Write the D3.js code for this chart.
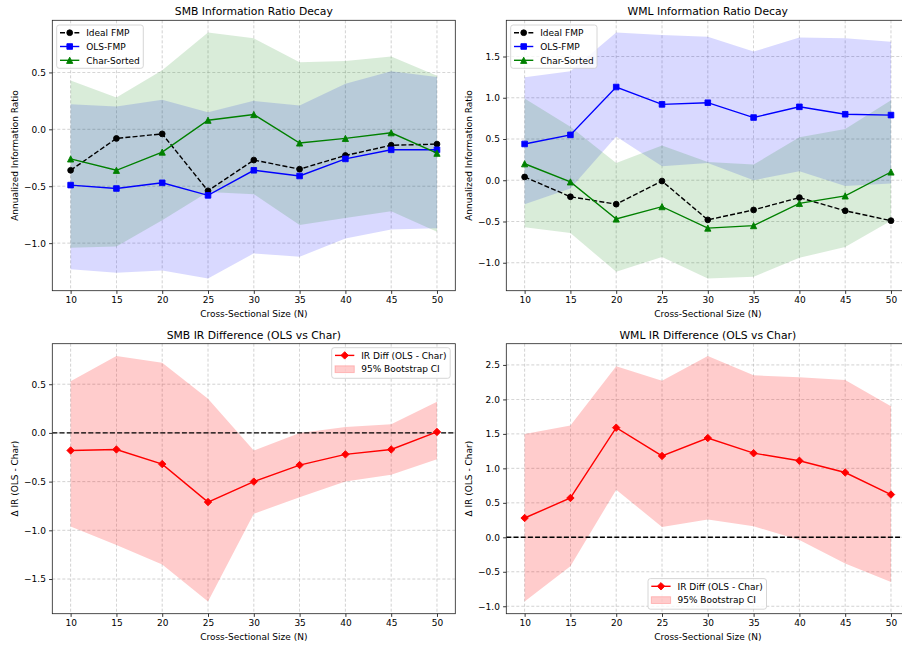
<!DOCTYPE html>
<html><head><meta charset="utf-8">
<script src="https://cdn.jsdelivr.net/npm/d3@7"></script>
<style>
body{margin:0;background:#fff;}
text{font-family:"DejaVu Sans",sans-serif;fill:#000;}
</style></head>
<body><svg id="c" width="902" height="646"></svg>
<script>
// ---------- data ----------
const Ns = [10,15,20,25,30,35,40,45,50];

const smbIdeal  = [-0.36,-0.08,-0.04,-0.54,-0.27,-0.35,-0.23,-0.14,-0.13];
const smbOls    = [-0.49,-0.52,-0.47,-0.58,-0.36,-0.41,-0.26,-0.18,-0.18];
const smbChar   = [-0.26,-0.36,-0.20,0.08,0.13,-0.12,-0.08,-0.03,-0.21];
const smbOlsLo  = [-1.23,-1.26,-1.24,-1.31,-1.09,-1.12,-0.96,-0.88,-0.87];
const smbOlsHi  = [0.22,0.20,0.26,0.15,0.25,0.21,0.40,0.51,0.46];
const smbCharLo = [-1.04,-1.03,-0.80,-0.55,-0.57,-0.84,-0.78,-0.72,-0.90];
const smbCharHi = [0.43,0.28,0.52,0.85,0.80,0.59,0.60,0.64,0.47];

const wmlIdeal  = [0.04,-0.20,-0.29,-0.01,-0.48,-0.36,-0.21,-0.37,-0.49];
const wmlOls    = [0.44,0.55,1.13,0.92,0.94,0.76,0.89,0.80,0.79];
const wmlChar   = [0.20,-0.02,-0.47,-0.32,-0.58,-0.55,-0.28,-0.19,0.10];
const wmlOlsLo  = [-0.29,-0.10,0.53,0.17,0.21,0.00,0.11,-0.07,-0.04];
const wmlOlsHi  = [1.25,1.32,1.79,1.76,1.74,1.56,1.73,1.72,1.68];
const wmlCharLo = [-0.57,-0.64,-1.11,-0.93,-1.19,-1.17,-0.94,-0.81,-0.49];
const wmlCharHi = [0.99,0.65,0.21,0.42,0.22,0.19,0.52,0.62,0.97];

const smbDiff   = [-0.18,-0.17,-0.32,-0.71,-0.50,-0.33,-0.22,-0.17,0.01];
const smbDiffLo = [-0.96,-1.15,-1.35,-1.73,-0.83,-0.66,-0.50,-0.43,-0.27];
const smbDiffHi = [0.53,0.79,0.72,0.35,-0.18,0.00,0.06,0.09,0.32];

const wmlDiff   = [0.28,0.57,1.59,1.18,1.44,1.22,1.11,0.94,0.62];
const wmlDiffLo = [-0.93,-0.42,0.69,0.15,0.26,0.16,-0.04,-0.38,-0.65];
const wmlDiffHi = [1.50,1.62,2.48,2.27,2.63,2.35,2.32,2.28,1.90];

const titles = ["SMB Information Ratio Decay","WML Information Ratio Decay",
                "SMB IR Difference (OLS vs Char)","WML IR Difference (OLS vs Char)"];
const yLabels = ["Annualized Information Ratio","Annualized Information Ratio","Δ IR (OLS - Char)","Δ IR (OLS - Char)"];
const xLabel = "Cross-Sectional Size (N)";
const seriesNames = ["Ideal FMP","OLS-FMP","Char-Sorted"];
const diffNames = ["IR Diff (OLS - Char)","95% Bootstrap CI"];
const yTicks = [[-1.0,-0.5,0.0,0.5],[-1.0,-0.5,0.0,0.5,1.0,1.5],[-1.5,-1.0,-0.5,0.0,0.5],[-1.0,-0.5,0.0,0.5,1.0,1.5,2.0,2.5]];

// ---------- layout ----------
const svg = d3.select("#c");
const panels = [
  {x0:52.3, x1:455.3, y0:20.3, y1:290.7},
  {x0:506.3, x1:909.3, y0:20.3, y1:290.7},
  {x0:52.3, x1:455.3, y0:343.7, y1:613.7},
  {x0:506.3, x1:909.3, y0:343.7, y1:613.7}
];
const FS = 9.0, TFS = 10.8, LW = 1.4, DASH = "5.0,2.2";

// marker shapes matching matplotlib
const mk = {
  circle: {draw(c,s){const r=s/2;c.moveTo(r,0);c.arc(0,0,r,0,2*Math.PI);}},
  square: {draw(c,s){const h=s/2;c.rect(-h,-h,s,s);}},
  triangle: {draw(c,s){const h=s/2;c.moveTo(0,-h);c.lineTo(h,h);c.lineTo(-h,h);c.closePath();}},
  diamond: {draw(c,s){const h=s*0.62;c.moveTo(0,-h);c.lineTo(h,0);c.lineTo(0,h);c.lineTo(-h,0);c.closePath();}}
};
function marker(g, type, size, color, x, y){
  g.append("path").attr("d", d3.symbol().type(mk[type]).size(size)())
   .attr("transform",`translate(${x},${y})`)
   .attr("fill",color).attr("stroke",color).attr("stroke-width",0.9);
}

function makePanel(i, bands, lines, hline){
  const p = panels[i];
  const all = [];
  bands.forEach(b=>{all.push(...b.lo,...b.hi);});
  lines.forEach(l=>all.push(...l.v));
  const mn=d3.min(all), mx=d3.max(all), pad=(mx-mn)*0.05;
  const x = d3.scaleLinear().domain([8,52]).range([p.x0,p.x1]);
  const y = d3.scaleLinear().domain([mn-pad,mx+pad]).range([p.y1,p.y0]);
  const g = svg.append("g");
  const cid = "clip"+i;
  svg.append("clipPath").attr("id",cid).append("rect")
     .attr("x",p.x0).attr("y",p.y0).attr("width",p.x1-p.x0).attr("height",p.y1-p.y0);
  // grid
  const grid = g.append("g");
  Ns.forEach(n=>grid.append("line").attr("x1",x(n)).attr("x2",x(n)).attr("y1",p.y0).attr("y2",p.y1));
  yTicks[i].forEach(t=>grid.append("line").attr("x1",p.x0).attr("x2",p.x1).attr("y1",y(t)).attr("y2",y(t)));
  grid.selectAll("line").attr("stroke","#b0b0b0").attr("stroke-width",0.8)
      .attr("stroke-dasharray","3,2").attr("opacity",0.7);
  const plot = g.append("g").attr("clip-path",`url(#${cid})`);
  // bands
  bands.forEach(b=>{
    const area = d3.area().x((d,k)=>x(Ns[k])).y0((d,k)=>y(b.lo[k])).y1((d,k)=>y(b.hi[k]));
    plot.append("path").attr("d",area(Ns)).attr("fill",b.color).attr("fill-opacity",b.alpha);
  });
  if(hline) plot.append("line").attr("x1",p.x0).attr("x2",p.x1).attr("y1",y(0)).attr("y2",y(0))
      .attr("stroke","#000").attr("stroke-width",LW).attr("stroke-dasharray",DASH);
  // lines
  lines.forEach(l=>{
    const line = d3.line().x((d,k)=>x(Ns[k])).y(d=>y(d));
    plot.append("path").attr("d",line(l.v)).attr("fill","none").attr("stroke",l.color)
       .attr("stroke-width",LW).attr("stroke-dasharray",l.dash||null);
    l.v.forEach((v,k)=>marker(plot,l.m,l.ms,l.color,x(Ns[k]),y(v)));
  });
  // axes
  const ax = g.append("g").attr("transform",`translate(0,${p.y1})`)
    .call(d3.axisBottom(x).tickValues(Ns).tickSize(3.2).tickPadding(3.2).tickFormat(d3.format("d")));
  const ay = g.append("g").attr("transform",`translate(${p.x0},0)`)
    .call(d3.axisLeft(y).tickValues(yTicks[i]).tickSize(3.2).tickPadding(3.2).tickFormat(d3.format(".1f")));
  [ax,ay].forEach(a=>{
    a.select(".domain").remove();
    a.selectAll("line").attr("stroke","#000").attr("stroke-width",0.8);
    a.selectAll("text").attr("font-size",FS).attr("font-family","DejaVu Sans").attr("fill","#000");
  });
  g.append("rect").attr("x",p.x0).attr("y",p.y0).attr("width",p.x1-p.x0).attr("height",p.y1-p.y0)
   .attr("fill","none").attr("stroke","#222").attr("stroke-width",0.8);
  // labels
  const cx = p.x0 + (455.3-52.3)/2;
  g.append("text").attr("x",cx).attr("y",p.y0-5.2).attr("text-anchor","middle").attr("font-size",TFS).text(titles[i]);
  g.append("text").attr("x",cx).attr("y",p.y1+26.3).attr("text-anchor","middle").attr("font-size",FS).text(xLabel);
  g.append("text").attr("transform",`translate(${p.x0-37.6},${(p.y0+p.y1)/2}) rotate(-90)`)
   .attr("dy","0.35em").attr("text-anchor","middle").attr("font-size",FS).text(yLabels[i]);
  return g;
}

function legendBox(g, bx, by, w, h){
  g.append("rect").attr("x",bx).attr("y",by).attr("width",w).attr("height",h).attr("rx",2.5)
   .attr("fill","#fff").attr("fill-opacity",0.8).attr("stroke","#cccccc").attr("stroke-width",0.8);
}
function legendLines(g, bx, by, w, h, items){
  legendBox(g,bx,by,w,h);
  items.forEach((it,k)=>{
    const yy = by+7.7+k*13.8;
    if(it.patch){
      g.append("rect").attr("x",bx+3.3).attr("y",yy-3.4).attr("width",19.3).attr("height",6.8)
       .attr("fill",it.color).attr("fill-opacity",it.alpha).attr("stroke",it.color).attr("stroke-opacity",it.alpha);
    } else {
      g.append("line").attr("x1",bx+3.3).attr("x2",bx+22.6).attr("y1",yy).attr("y2",yy)
       .attr("stroke",it.color).attr("stroke-width",LW).attr("stroke-dasharray",it.dash||null);
      marker(g,it.m,it.ms,it.color,bx+13,yy);
    }
    g.append("text").attr("x",bx+29.5).attr("y",yy).attr("dy","0.36em").attr("font-size",FS).text(it.name);
  });
}

const cIdeal="#000000", cOls="#0000ff", cChar="#008000", cDiff="#ff0000";
const sIdeal={m:"circle",ms:5.8}, sOls={m:"square",ms:5.6}, sChar={m:"triangle",ms:6.2}, sDiff={m:"diamond",ms:6.0};

function topPanel(i, ideal, ols, olsLo, olsHi, ch, chLo, chHi){
  const g = makePanel(i,
    [{lo:olsLo,hi:olsHi,color:cOls,alpha:0.15},{lo:chLo,hi:chHi,color:cChar,alpha:0.15}],
    [{v:ideal,color:cIdeal,dash:DASH,...sIdeal},{v:ols,color:cOls,...sOls},{v:ch,color:cChar,...sChar}], false);
  const p = panels[i];
  legendLines(g, p.x0+4.4, 25, i===0?86.6:86.3, 43.3, [
    {name:seriesNames[0],color:cIdeal,dash:DASH,...sIdeal},
    {name:seriesNames[1],color:cOls,...sOls},
    {name:seriesNames[2],color:cChar,...sChar}]);
}
topPanel(0, smbIdeal, smbOls, smbOlsLo, smbOlsHi, smbChar, smbCharLo, smbCharHi);
topPanel(1, wmlIdeal, wmlOls, wmlOlsLo, wmlOlsHi, wmlChar, wmlCharLo, wmlCharHi);

function diffPanel(i, v, lo, hi, lx, ly){
  const g = makePanel(i, [{lo:lo,hi:hi,color:cDiff,alpha:0.2}], [{v:v,color:cDiff,...sDiff}], true);
  legendLines(g, lx, ly, 118.5, 30.6, [
    {name:diffNames[0],color:cDiff,...sDiff},
    {name:diffNames[1],color:cDiff,alpha:0.2,patch:true}]);
}
diffPanel(2, smbDiff, smbDiffLo, smbDiffHi, 331.7, 347.7);
diffPanel(3, wmlDiff, wmlDiffLo, wmlDiffHi, 648.0, 578.6);
</script></body></html>
